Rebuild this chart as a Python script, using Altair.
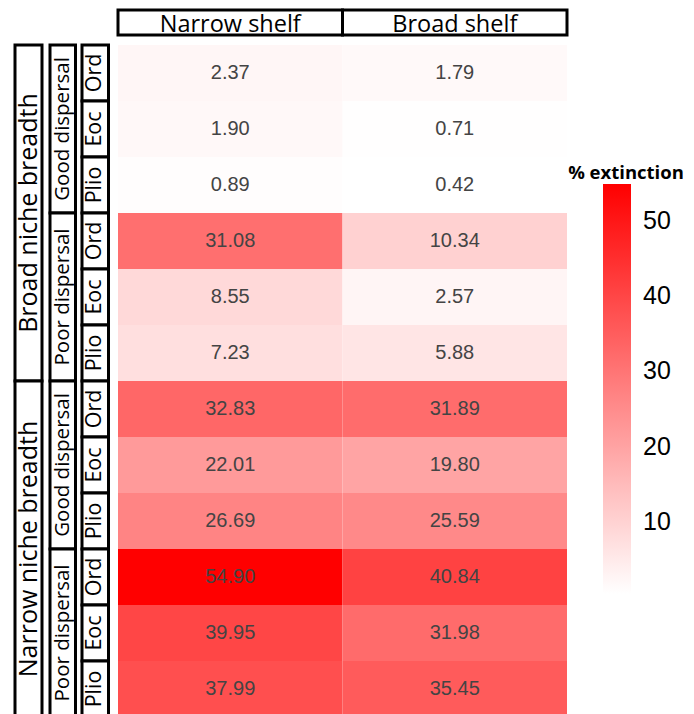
import altair as alt
import pandas as pd

# ---- data ----
niches = ["Broad niche breadth", "Narrow niche breadth"]
dispersals = ["Good dispersal", "Poor dispersal"]
periods = ["Ord", "Eoc", "Plio"]
shelves = ["Narrow shelf", "Broad shelf"]
narrow_shelf = [2.37, 1.90, 0.89, 31.08, 8.55, 7.23, 32.83, 22.01, 26.69, 54.90, 39.95, 37.99]
broad_shelf = [1.79, 0.71, 0.42, 10.34, 2.57, 5.88, 31.89, 19.80, 25.59, 40.84, 31.98, 35.45]
legend_ticks = [10, 20, 30, 40, 50]
legend_title = "% extinction"

# ---- tables ----
rows = []
i = 0
for n in niches:
    for d in dispersals:
        for p in periods:
            rows.append(dict(row=i, niche=n, dispersal=d, period=p))
            i += 1
rows_df = pd.DataFrame(rows)
rows_df["row_end"] = rows_df["row"] + 1
NROWS = len(rows_df)

cells = []
for shelf, vals in zip(shelves, [narrow_shelf, broad_shelf]):
    for r, v in zip(rows, vals):
        cells.append(dict(row=r["row"], shelf=shelf, value=v))
cells_df = pd.DataFrame(cells)
cells_df["row_end"] = cells_df["row"] + 1
cells_df["mid"] = cells_df["row"] + 0.5


def group(keys, label):
    g = rows_df.groupby(keys, sort=False).agg(start=("row", "min"), end=("row_end", "max")).reset_index()
    g["mid"] = (g["start"] + g["end"]) / 2
    g["label"] = g[label]
    return g


niche_df = group(["niche"], "niche")
disp_df = group(["niche", "dispersal"], "dispersal")
period_df = group(["niche", "dispersal", "period"], "period")

# ---- layout (pixels relative to the heat map's plot area) ----
H = 672
W = 449
yscale = alt.Scale(domain=[0, NROWS], reverse=True, nice=False, zero=False)
xband = alt.Scale(domain=shelves, paddingInner=0, paddingOuter=0)


def strip(df, x0, x1, size):
    base = alt.Chart(df)
    box = base.mark_rect(fill="white", stroke="black", strokeWidth=3).encode(
        y=alt.Y("start:Q", scale=yscale, axis=None),
        y2="end:Q",
        x=alt.value(x0),
        x2=alt.value(x1),
    )
    txt = base.mark_text(angle=270, font="Open Sans", fontSize=size, color="black",
                         baseline="middle", align="center").encode(
        y=alt.Y("mid:Q", scale=yscale, axis=None),
        x=alt.value((x0 + x1) / 2),
        text="label:N",
    )
    return [box, txt]


layers = []
layers += strip(niche_df, -103, -76, 25)
layers += strip(disp_df, -68, -42.5, 20.5)
layers += strip(period_df, -36, -9.5, 21.5)

color_scale = alt.Scale(domain=[min(narrow_shelf + broad_shelf), max(narrow_shelf + broad_shelf)],
                        range=["#ffffff", "#ff0000"], interpolate="rgb")

heat_base = alt.Chart(cells_df)
heat_rect = heat_base.mark_rect().encode(
    x=alt.X("shelf:N", sort=shelves, scale=xband, axis=None),
    y=alt.Y("row:Q", scale=yscale, axis=None),
    y2="row_end:Q",
    color=alt.Color("value:Q", scale=color_scale, legend=alt.Legend(
        title=None, orient="none", legendX=485, legendY=139, direction="vertical",
        gradientLength=410, gradientThickness=28, values=legend_ticks,
        labelFont="Liberation Sans", labelFontSize=25, labelColor="black", labelOffset=12,
        gradientStrokeWidth=0)),
)
heat_text = heat_base.mark_text(font="Liberation Sans", fontSize=20, color="#444444",
                                baseline="middle").encode(
    x=alt.X("shelf:N", sort=shelves, scale=xband, axis=None),
    y=alt.Y("mid:Q", scale=yscale, axis=None),
    text=alt.Text("value:Q", format=".2f"),
)
layers += [heat_rect, heat_text]

title_txt = alt.Chart(pd.DataFrame({"t": [legend_title]})).mark_text(
    font="Open Sans", fontWeight="bold", fontSize=18.5, color="black",
    align="center", baseline="alphabetic").encode(
    x=alt.value(508), y=alt.value(134), text="t:N")
layers.append(title_txt)

header_base = alt.Chart(pd.DataFrame({"shelf": shelves}))
hbox = header_base.mark_rect(fill="white", stroke="black", strokeWidth=3).encode(
    x=alt.X("shelf:N", sort=shelves, scale=xband, axis=None),
    y=alt.value(-35), y2=alt.value(-10),
)
htxt = header_base.mark_text(font="Open Sans", fontSize=23.5, color="black", baseline="middle").encode(
    x=alt.X("shelf:N", sort=shelves, scale=xband, axis=None),
    y=alt.value(-20.5),
    text="shelf:N",
)
layers += [hbox, htxt]

chart = alt.layer(*layers).properties(
    width=W, height=H,
    padding={"left": 110, "top": 37, "right": 119, "bottom": 0},
    autosize=alt.AutoSizeParams(type="none"),
    background="white",
).configure_view(strokeWidth=0)

chart.save("out.html", embed_options={"renderer": "svg", "actions": False})
